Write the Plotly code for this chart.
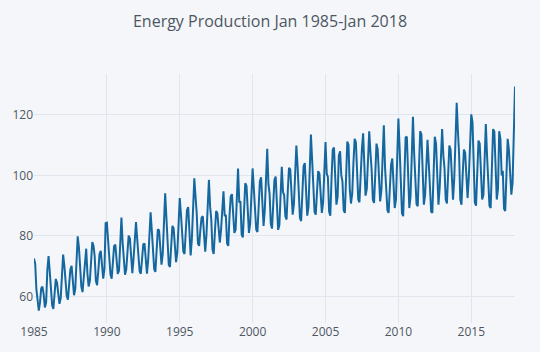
import plotly.graph_objects as go
import pandas as pd

y1985 = [72.5052, 70.6720, 62.4502, 57.4714, 55.3151, 58.0904, 62.6202, 63.2485, 60.5846, 56.3154, 58.0005, 68.7145]
y1986 = [73.3057, 67.9869, 62.2221, 57.0329, 55.8137, 59.9005, 65.7655, 64.4816, 61.0005, 57.5322, 59.3417, 68.1354]
y1987 = [73.8152, 70.0620, 65.6100, 60.1586, 58.8734, 63.8918, 68.8694, 70.0669, 64.1151, 60.3789, 62.4643, 70.5777]
y1988 = [79.8703, 76.1622, 70.2928, 63.2384, 61.4065, 67.1097, 72.9816, 75.7655, 67.5152, 63.2832, 65.1078, 73.8631]
y1989 = [77.9188, 76.6822, 73.3523, 65.1081, 63.6892, 68.4722, 74.0301, 75.0448, 69.3053, 65.8735, 69.0706, 84.1949]
y1990 = [84.3598, 77.1726, 73.1964, 67.2781, 65.8218, 71.4654, 76.6140, 77.1052, 73.0610, 67.4365, 68.5665, 77.6839]
y1991 = [86.0214, 77.5573, 73.3650, 67.1500, 68.8162, 74.8448, 80.0928, 79.1606, 71.7736, 67.7059, 72.5320, 79.8165]
y1992 = [84.6, 78.8, 74.5, 68.3, 67.5, 72.5, 77.2, 77.5, 72.6, 67.5, 72.0, 81.5]
y1993 = [87.8, 81.5, 77.0, 69.0, 68.1, 75.5, 82.2, 81.8, 76.0, 70.5, 74.0, 86.5]
y1994 = [94.1, 86.0, 79.5, 70.5, 69.7, 77.5, 83.3, 82.5, 76.5, 71.3, 74.5, 86.0]
y1995 = [92.5, 87.0, 82.0, 74.8, 74.0, 81.0, 88.5, 89.5, 80.5, 73.5, 79.0, 91.0]
y1996 = [99.0, 93.0, 87.5, 77.5, 76.7, 82.0, 86.0, 86.5, 79.5, 74.8, 80.5, 90.5]
y1997 = [98.5, 89.5, 85.5, 75.5, 74.0, 81.5, 88.2, 87.5, 82.5, 77.8, 82.0, 89.0]
y1998 = [94.7, 86.5, 87.0, 77.5, 76.7, 86.5, 93.0, 93.8, 88.0, 81.0, 82.0, 91.5]
y1999 = [102.3, 91.0, 91.5, 80.5, 79.5, 88.5, 97.4, 96.5, 87.5, 81.0, 84.0, 94.5]
y2000 = [102.3, 95.5, 89.0, 82.0, 81.3, 91.0, 98.0, 99.4, 89.5, 83.3, 88.5, 100.5]
y2001 = [108.8, 97.0, 94.0, 84.0, 82.4, 90.5, 98.5, 99.6, 88.5, 82.0, 83.5, 94.0]
y2002 = [102.8, 94.5, 93.5, 86.5, 85.4, 95.0, 102.5, 102.0, 94.0, 87.0, 90.5, 101.5]
y2003 = [109.9, 103.0, 95.0, 86.0, 84.9, 94.0, 103.0, 104.1, 93.5, 86.7, 89.5, 102.5]
y2004 = [113.5, 105.0, 96.0, 88.0, 87.0, 95.5, 101.4, 100.5, 94.0, 87.6, 91.0, 104.5]
y2005 = [111.0, 100.5, 99.5, 88.0, 86.7, 99.0, 108.5, 109.2, 99.0, 90.3, 93.0, 106.5]
y2006 = [108.0, 100.0, 98.0, 88.5, 87.6, 99.5, 111.2, 110.0, 95.5, 90.7, 94.0, 104.0]
y2007 = [112.1, 111.0, 99.0, 92.0, 91.1, 101.0, 108.5, 113.9, 101.0, 93.3, 95.5, 108.0]
y2008 = [114.6, 107.5, 102.0, 92.0, 90.9, 100.5, 110.5, 108.5, 97.5, 91.4, 95.0, 108.5]
y2009 = [116.6, 102.5, 97.0, 88.5, 87.6, 95.5, 103.5, 105.6, 95.0, 89.2, 92.0, 110.5]
y2010 = [118.8, 109.0, 99.0, 87.5, 86.5, 101.5, 112.5, 112.8, 100.0, 89.2, 93.0, 111.0]
y2011 = [119.4, 107.0, 100.5, 90.5, 89.8, 102.0, 114.6, 113.5, 99.0, 90.3, 93.5, 104.5]
y2012 = [111.8, 104.0, 95.5, 88.0, 87.6, 100.0, 112.8, 110.5, 98.0, 90.3, 96.0, 106.0]
y2013 = [115.3, 106.5, 102.5, 92.0, 90.7, 100.5, 109.9, 108.5, 99.5, 92.0, 99.0, 112.0]
y2014 = [124.0, 114.5, 107.5, 92.0, 90.3, 100.5, 108.5, 107.5, 99.0, 92.5, 99.5, 109.5]
y2015 = [120.2, 117.5, 104.0, 91.0, 90.0, 102.0, 111.5, 110.5, 102.0, 92.0, 93.5, 104.5]
y2016 = [117.0, 106.5, 96.5, 90.0, 89.2, 101.5, 115.3, 114.5, 101.0, 92.0, 95.5, 114.6]
y2017 = [112.0, 100.0, 101.5, 89.0, 88.2, 100.5, 112.1, 108.5, 98.5, 93.6, 97.5, 114.0]
y2018 = [129.4]

series = (y1985 + y1986 + y1987 + y1988 + y1989 + y1990 + y1991 + y1992 + y1993 + y1994
          + y1995 + y1996 + y1997 + y1998 + y1999 + y2000 + y2001 + y2002 + y2003 + y2004
          + y2005 + y2006 + y2007 + y2008 + y2009 + y2010 + y2011 + y2012 + y2013 + y2014
          + y2015 + y2016 + y2017 + y2018)
dates = pd.date_range("1985-01-01", periods=len(series), freq="MS")

title_text = "Energy Production Jan 1985-Jan 2018"

fig = go.Figure(go.Scatter(x=dates, y=series, mode="lines",
                           line=dict(color="#15689f", width=2)))
fig.update_layout(
    width=540, height=352,
    paper_bgcolor="#F5F6F9", plot_bgcolor="#F5F6F9",
    font=dict(family="Open Sans", size=12, color="#4D5663"),
    title=dict(text=title_text, x=0.5, xanchor="center", y=0.94, yanchor="middle",
               font=dict(size=16, color="#4D5663")),
    margin=dict(l=32, r=25, t=74, b=28),
    showlegend=False,
)
fig.update_xaxes(showgrid=True, gridcolor="#E1E5ED", zeroline=False, showline=False,
                 tickfont=dict(color="#4D5663"))
fig.update_yaxes(showgrid=True, gridcolor="#E1E5ED", zeroline=False, showline=False,
                 tickfont=dict(color="#4D5663"), tickvals=[60, 80, 100, 120])
fig.write_html("out.html")
